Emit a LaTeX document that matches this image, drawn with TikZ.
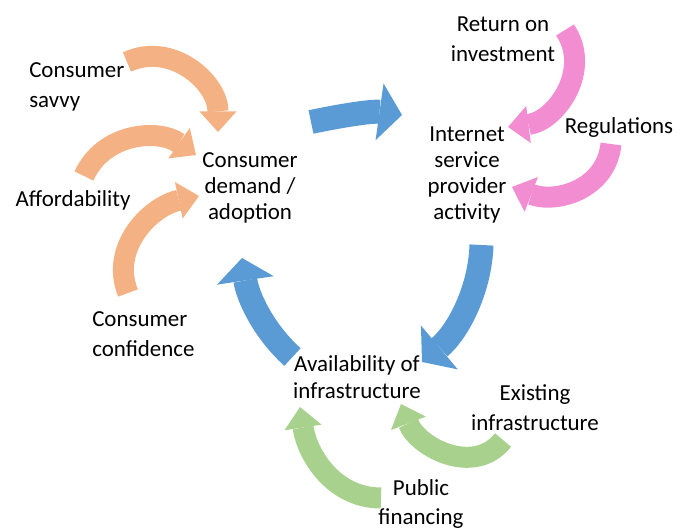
\documentclass[tikz,border=0pt]{standalone}
\usepackage{fontspec}
\setmainfont{Carlito}
\usetikzlibrary{arrows.meta}
\definecolor{cycleblue}{HTML}{5B9BD5}
\definecolor{demandorange}{HTML}{F4B183}
\definecolor{isppink}{HTML}{F28DD2}
\definecolor{infragreen}{HTML}{A9D18E}
\begin{document}
\begin{tikzpicture}[x=0.75pt,y=-0.75pt,
  factor/.style={font=\fontsize{17.2}{22.6}\selectfont, align=center, inner sep=0pt, text=black},
  hub/.style={factor, font=\fontsize{17.2}{19.7}\selectfont},
  feeder/.style={line width=15.75pt, -{Triangle[length=15.5pt,width=28pt,line width=0pt]}},
  cycle/.style={line width=18pt, -{Triangle[length=17pt,width=43pt,line width=0pt]}},
]
\useasboundingbox (0,0) rectangle (684,531);

% text nodes
\node[hub] (demand) at (250,188) {Consumer\\demand /\\adoption};
\node[hub] (isp) at (467,175) {Internet\\service\\provider\\activity};
\node[hub] (avail) at (357,377) {Availability of\\infrastructure};
\node[factor, align=left, anchor=west] (savvy) at (29,87) {Consumer\\savvy};
\node[factor] (afford) at (73,200) {Affordability};
\node[factor, align=left, anchor=west] (confid) at (92,334) {Consumer\\confidence};
\node[factor] (roi) at (503,39) {Return on\\investment};
\node[factor] (regs) at (619,128) {Regulations};
\node[factor] (exist) at (535,408) {Existing\\infrastructure};
\node[factor, font=\fontsize{17.2}{21.5}\selectfont] (public) at (421,504) {Public\\financing};

% arrow end points
\coordinate (o1s) at (127,62);   \coordinate (o1e) at (218,132);
\coordinate (o2s) at (84,176);   \coordinate (o2e) at (196,155);
\coordinate (o3s) at (128,293);  \coordinate (o3e) at (199,196);
\coordinate (p1s) at (565,30);   \coordinate (p1e) at (508,127);
\coordinate (p2s) at (611,144);  \coordinate (p2e) at (512,187);
\coordinate (g1s) at (503,440);  \coordinate (g1e) at (401,404);
\coordinate (g2s) at (381,498);  \coordinate (g2e) at (300,407);
\coordinate (b1s) at (311,122);  \coordinate (b1e) at (402,115);
\coordinate (b2s) at (481.5,245);\coordinate (b2e) at (422,362);
\coordinate (b3s) at (292.5,357);\coordinate (b3e) at (242,258);

% consumer factors
\draw[feeder, demandorange] (o1s) to[out=25,in=90,looseness=1.1] (o1e);
\draw[feeder, demandorange] (o2s) to[out=66,in=145,looseness=1.05] (o2e);
\draw[feeder, demandorange] (o3s) to[out=112,in=192,looseness=1.05] (o3e);

% provider factors
\draw[feeder, isppink] (p1s) to[out=-56,in=7,looseness=1.1] (p1e);
\draw[feeder, isppink] (p2s) to[out=-96,in=-21,looseness=1.1] (p2e);

% infrastructure factors
\draw[feeder, infragreen] (g1s) to[out=232,in=291,looseness=1.1] (g1e);
\draw[feeder, infragreen] (g2s) to[out=180,in=278.5] (g2e);

% main cycle
\draw[cycle, cycleblue] (b1s) to[out=12,in=172,looseness=0.85] (b1e);
\draw[cycle, cycleblue] (b2s) to[out=-92,in=40,looseness=0.9] (b2e);
\draw[cycle, cycleblue] (b3s) to[out=138,in=278.5,looseness=0.9] (b3e);
\end{tikzpicture}
\end{document}
